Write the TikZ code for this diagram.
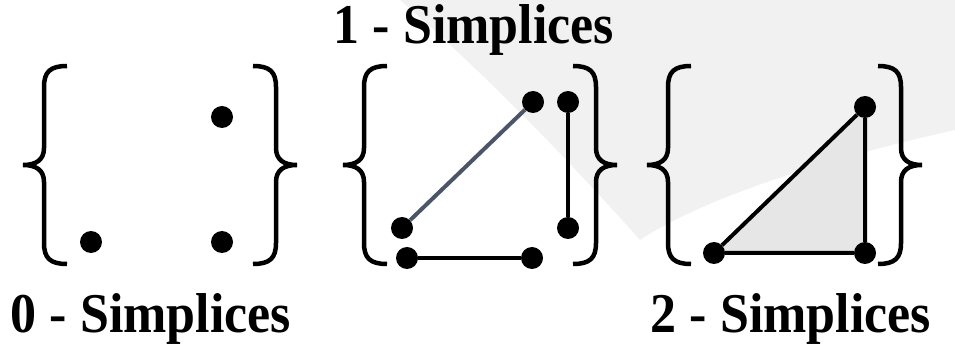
\documentclass[tikz,border=0pt]{standalone}
\usepackage{fontspec}
\setmainfont{Liberation Serif}
\usetikzlibrary{positioning, backgrounds}

\definecolor{slate}{HTML}{4A5568}
\definecolor{facegray}{HTML}{E6E6E6}
\definecolor{wash}{HTML}{F1F1F1}

\begin{document}
\begin{tikzpicture}[x=1pt, y=-1pt,
  vtx/.style  ={circle, fill=black, inner sep=0pt, minimum size=22pt},
  edge/.style ={line width=4pt, black},
  title/.style={font=\fontsize{52}{56}\selectfont\bfseries, anchor=base, inner sep=0pt},
  brace/.pic  ={\draw[line width=4.5pt]
                 (44,-99) .. controls (27,-99) and (21,-93) .. (21,-78) -- (21,-17)
                 .. controls (21,-5) and (13,0) .. (0,0)
                 .. controls (13,0) and (21,5) .. (21,17) -- (21,78)
                 .. controls (21,93) and (27,99) .. (44,99);},
]
\useasboundingbox (0,0) rectangle (955,344);

%% ---- Titles ----
\node[title] (T0) at (151,333) {\scalebox{1}[1.08]{0 - Simplices}};
\node[title] (T1) at (474, 44) {\scalebox{1}[1.08]{1 - Simplices}};
\node[title] (T2) at (791,333) {\scalebox{1}[1.08]{2 - Simplices}};

%% ---- Braces ----
\pic             at ( 23,165) {brace};
\pic[xscale=-1]  at (297,165) {brace};
\pic             at (343,165) {brace};
\pic[xscale=-1]  at (617,165) {brace};
\pic             at (647,165) {brace};
\pic[xscale=-1]  at (922,165) {brace};

%% ---- 0-simplices ----
\node[vtx] (A0) at ( 91,242) {};
\node[vtx] (B0) at (222,242) {};
\node[vtx] (C0) at (222,117) {};

%% ---- 1-simplices ----
\node[vtx] (A1) at (402,228) {};
\node[vtx] (B1) at (533,102) {};
\node[vtx] (C1) at (568,102) {};
\node[vtx] (D1) at (568,228) {};
\node[vtx] (E1) at (407,258) {};
\node[vtx] (F1) at (532,258) {};
\draw[edge, slate] (A1) -- (B1);
\draw[edge] (C1) -- (D1);
\draw[edge] (E1) -- (F1);

%% ---- 2-simplex ----
\node[vtx] (A2) at (714,253) {};
\node[vtx] (B2) at (865,253) {};
\node[vtx] (C2) at (865,107) {};
\draw[edge] (A2) -- (B2) -- (C2) -- (A2);

\begin{pgfonlayer}{background}
  \fill[wash] (400,0) -- (955,0) -- (955,130)
    .. controls (820,160) and (700,200) .. (640,240)
    .. controls (560,150) and (470,60) .. cycle;
  \fill[facegray] (A2.center) -- (B2.center) -- (C2.center) -- cycle;
\end{pgfonlayer}
\end{tikzpicture}
\end{document}
